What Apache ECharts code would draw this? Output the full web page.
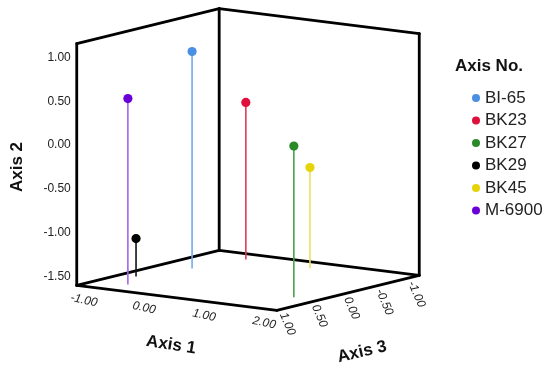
<!DOCTYPE html>
<html>
<head>
<meta charset="utf-8">
<script src="https://cdn.jsdelivr.net/npm/echarts@6/dist/echarts.min.js"></script>
<style>html,body{margin:0;padding:0;background:#fff}#c{width:550px;height:369px}</style>
</head>
<body>
<div id="c"></div>
<script>
// ---- data ----
const categories = ['BI-65', 'BK23', 'BK27', 'BK29', 'BK45', 'M-6900'];
const axis1Values = [-0.61, -0.42, 1.81, -0.87, 0.69, -0.60];
const axis2Values = [0.875, 0.19, 0.125, -1.17, -0.45, 0.52];
const axis3Values = [-0.18, -0.84, 0.50, 0.45, -0.80, 0.83];
const axis1Ticks = [-1, 0, 1, 2];
const axis2Ticks = [-1.5, -1, -0.5, 0, 0.5, 1];
const axis3Ticks = [1, 0.5, 0, -0.5, -1];
const axis1Range = [-1.12, 2.21];
const axis2Range = [-1.602, 1.159];
const axis3Range = [-1.08, 1.14];

// ---- styles ----
const dotColors = ['#4a90e2', '#e0103c', '#2a8a2a', '#000000', '#e6d40a', '#6a00d6'];
const lineColors = ['#72aaee', '#e03a5c', '#45a545', '#111111', '#ece060', '#a463ea'];
const FONT = '"Liberation Sans", Arial, sans-serif';

// ---- orthographic projection of the 3D box ----
const theta = 35.45 * Math.PI / 180;   // azimuth
const phi = 10.1 * Math.PI / 180;      // elevation
const L = 245.6;                        // cube side in px
const cx = 248, cy = 159.5;             // cube centre on screen
const ct = Math.cos(theta), st = Math.sin(theta), cp = Math.cos(phi), sp = Math.sin(phi);
const xb = 0.5 * (ct + st);
const yb = 0.5 * cp + xb * sp;

function norm(v, r) { return (v - r[0]) / (r[1] - r[0]) - 0.5; }
function proj(a1, a2, a3) {
  const X = norm(a1, axis1Range), Y = norm(a2, axis2Range), Z = norm(a3, axis3Range);
  const sx = X * ct - Z * st;
  const d = X * st + Z * ct;
  const sy = -Y * cp + d * sp;
  return [sx, sy];
}

const chart = echarts.init(document.getElementById('c'), null, { renderer: 'canvas' });

function frameRender(params, api) {
  const P = (a, b, c) => api.coord(proj(a, b, c));
  const [x0, x1] = axis1Range, [y0, y1] = axis2Range, [z0, z1] = axis3Range;
  const edges = [
    [P(x0, y0, z1), P(x0, y1, z1)],          // front-left vertical
    [P(x0, y0, z0), P(x0, y1, z0)],          // back vertical
    [P(x1, y0, z0), P(x1, y1, z0)],          // right vertical
    [P(x0, y1, z1), P(x0, y1, z0)],          // top left
    [P(x0, y1, z0), P(x1, y1, z0)],          // top back
    [P(x0, y0, z1), P(x0, y0, z0)],          // floor left
    [P(x0, y0, z0), P(x1, y0, z0)],          // floor back
    [P(x0, y0, z1), P(x1, y0, z1)],          // floor front (axis 1)
    [P(x1, y0, z1), P(x1, y0, z0)]           // floor right (axis 3)
  ];
  const children = edges.map(e => ({
    type: 'line',
    shape: { x1: e[0][0], y1: e[0][1], x2: e[1][0], y2: e[1][1] },
    style: { stroke: '#000', lineWidth: 2.8, lineCap: 'round' }
  }));
  // axis 2 tick labels (front-left vertical edge)
  axis2Ticks.forEach(t => {
    const p = P(x0, t, z1);
    children.push({ type: 'text', x: p[0] - 6, y: p[1], style: {
      text: t.toFixed(2), fill: '#222', font: '12px ' + FONT, align: 'right', verticalAlign: 'middle' } });
  });
  // axis 1 tick labels (front floor edge)
  axis1Ticks.forEach(t => {
    const p = P(t, y0, z1);
    children.push({ type: 'text', x: p[0], y: p[1] + 14, rotation: -12 * Math.PI / 180, style: {
      text: t.toFixed(2), fill: '#222', font: 'italic 12px ' + FONT, align: 'center', verticalAlign: 'middle' } });
  });
  // axis 3 tick labels (right floor edge)
  axis3Ticks.forEach(t => {
    const p = P(x1, y0, t);
    children.push({ type: 'text', x: p[0] - 3, y: p[1] + 5, rotation: -67 * Math.PI / 180, style: {
      text: t.toFixed(2), fill: '#222', font: 'italic 12px ' + FONT, align: 'left', verticalAlign: 'middle' } });
  });
  return { type: 'group', children };
}

function pointRender(idx) {
  return function (params, api) {
    const a1 = api.value(2), a2 = api.value(3), a3 = api.value(4);
    const top = api.coord(proj(a1, a2, a3));
    const bot = api.coord(proj(a1, axis2Range[0], a3));
    return { type: 'group', children: [
      { type: 'line', shape: { x1: top[0], y1: top[1], x2: bot[0], y2: bot[1] },
        style: { stroke: lineColors[idx], lineWidth: 1.6 } },
      { type: 'circle', shape: { cx: top[0], cy: top[1], r: 4.6 },
        style: { fill: dotColors[idx] } }
    ]};
  };
}

const series = [{
  type: 'custom', name: '__frame', coordinateSystem: 'cartesian2d', silent: true,
  renderItem: frameRender, data: [[0, 0]], encode: { x: 0, y: 1 }, z: 1
}];
categories.forEach((c, i) => {
  const pr = proj(axis1Values[i], axis2Values[i], axis3Values[i]);
  series.push({
    type: 'custom', name: c, coordinateSystem: 'cartesian2d', z: 2,
    itemStyle: { color: dotColors[i] },
    renderItem: pointRender(i),
    data: [[pr[0], pr[1], axis1Values[i], axis2Values[i], axis3Values[i]]],
    encode: { x: 0, y: 1 }
  });
});

chart.setOption({
  animation: false,
  backgroundColor: '#fff',
  grid: { left: cx - xb * L, top: cy - yb * L, width: 2 * xb * L, height: 2 * yb * L, show: false },
  xAxis: { type: 'value', min: -xb, max: xb, show: false },
  yAxis: { type: 'value', min: -yb, max: yb, inverse: true, show: false },
  legend: {
    data: categories.map(c => ({ name: c, icon: 'circle' })),
    orient: 'vertical', left: 467, top: 84,
    itemWidth: 8, itemHeight: 8, itemGap: 4.5,
    textStyle: { fontSize: 17, fontFamily: FONT, color: '#222', lineHeight: 18 },
    selectedMode: false
  },
  graphic: [
    { type: 'text', x: 489, y: 66, style: { text: 'Axis No.', font: 'bold 17px ' + FONT, fill: '#111', align: 'center', verticalAlign: 'middle' } },
    { type: 'text', x: 17, y: 167, rotation: Math.PI / 2, style: { text: 'Axis 2', font: 'bold 17px ' + FONT, fill: '#111', align: 'center', verticalAlign: 'middle' } },
    { type: 'text', x: 171, y: 345, rotation: -9 * Math.PI / 180, style: { text: 'Axis 1', font: 'bold 17px ' + FONT, fill: '#111', align: 'center', verticalAlign: 'middle' } },
    { type: 'text', x: 362, y: 352, rotation: 13 * Math.PI / 180, style: { text: 'Axis 3', font: 'bold 17px ' + FONT, fill: '#111', align: 'center', verticalAlign: 'middle' } }
  ],
  series
});
</script>
</body>
</html>
